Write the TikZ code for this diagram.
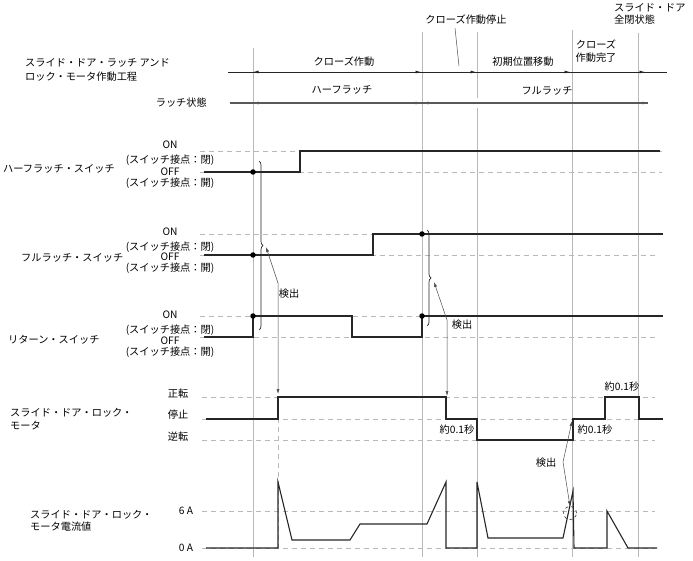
\documentclass[tikz,border=0pt]{standalone}
\usepackage{fontspec}
\setmainfont{Noto Sans CJK JP}
\usetikzlibrary{arrows.meta,decorations.pathreplacing}
\begin{document}
\begin{tikzpicture}[x=1pt,y=-1pt,
  font=\fontsize{10.2}{13.5}\selectfont,
  gridline/.style={draw=gray!55, line width=0.8pt},
  refline/.style={draw=gray!55, line width=0.7pt, dash pattern=on 5pt off 4pt},
  sig/.style={draw=black!85, line width=1.1pt},
  dimline/.style={draw=black!85, line width=0.8pt},
  latchline/.style={draw=gray!70!black, line width=1.1pt},
  tipl/.style={-{Latex[length=5.5pt,width=3pt]}},
  leader/.style={draw=black!70, line width=0.5pt},
  ldarr/.style={leader, {Latex[length=5pt,width=3pt]}-{Latex[length=5pt,width=3pt]}},
  brc/.style={draw=black!85, line width=0.7pt, decorate, decoration={brace, amplitude=4pt}},
  dotn/.style={circle, fill=black, inner sep=0pt, minimum size=5.5pt},
  lbl/.style={inner sep=0pt, align=center},
  lbll/.style={inner sep=0pt, align=left, anchor=west},
]
\useasboundingbox (0,0) rectangle (693,561);

% vertical grid lines
\draw[gridline] (253,48) -- (253,557);
\draw[gridline] (422,32) -- (422,557);
\draw[gridline] (477,32) -- (477,98) (477,108) -- (477,557);
\draw[gridline] (572,30) -- (572,557);
\draw[gridline] (638,33) -- (638,557);

% process row
\node[lbll] (proc) at (25,70) {スライド・ドア・ラッチ アンド\\ロック・モータ作動工程};
\coordinate (p0) at (228,72);
\coordinate (p5) at (667,72);
\draw[dimline] (p0) -- (p5);
\draw[dimline,tipl] (262,72) -- (253,72);
\draw[dimline,tipl] (412,72) -- (421,72);
\draw[dimline,tipl] (467,72) -- (476,72);
\draw[dimline,tipl] (561,72) -- (570,72);
\draw[dimline,tipl] (636,72) -- (645,72);
\node[lbl] (t1) at (344,62) {クローズ作動};
\node[lbl] (t2) at (466,20) {クローズ作動停止};
\coordinate (t2e) at (459,66);
\draw[leader] (455,28) -- (t2e);
\node[lbl] (t3) at (523,62) {初期位置移動};
\node[lbl] (t4) at (596,51) {クローズ\\作動完了};
\node[lbll, anchor=north west, align=left, font=\fontsize{10.2}{12.5}\selectfont] (t5) at (614,3) {スライド・ドア\\全閉状態};

% latch row
\node[lbl, anchor=east] (latch) at (207,103) {ラッチ状態};
\draw[latchline] (230,103) -- (648,103);
\draw[latchline,tipl] (262,103) -- (253,103);
\draw[latchline,tipl] (412,103) -- (421,103);
\draw[latchline,tipl] (432,103) -- (423,103);
\draw[latchline,tipl] (639,103) -- (648,103);
\node[lbl] (l1) at (342,90) {ハーフラッチ};
\node[lbl] (l2) at (547,91) {フルラッチ};

% half latch switch
\node[lbll] (hs) at (3,169) {ハーフラッチ・スイッチ};
\node[lbl] (hon) at (170,145) {ON};
\node[lbl] (hc) at (170,160) {(スイッチ接点：閉)};
\node[lbl] (hoff) at (170,172) {OFF};
\node[lbl] (ho) at (170,183) {(スイッチ接点：開)};
\draw[refline] (200,151) -- (662,151);
\draw[refline] (200,172) -- (662,172);
\draw[sig] (204,172) -- (300,172) -- (300,151) -- (660,151);

% full latch switch
\node[lbll] (fs) at (21,258) {フルラッチ・スイッチ};
\node[lbl] (fon) at (170,232) {ON};
\node[lbl] (fc) at (170,247) {(スイッチ接点：閉)};
\node[lbl] (foff) at (170,257) {OFF};
\node[lbl] (fo) at (170,268) {(スイッチ接点：開)};
\draw[refline] (200,234) -- (662,234);
\draw[refline] (200,255) -- (655,255);
\draw[sig] (204,255) -- (373,255) -- (373,234) -- (663,234);

% return switch
\node[lbll] (rs) at (8,340) {リターン・スイッチ};
\node[lbl] (ron) at (170,315) {ON};
\node[lbl] (rc) at (170,330) {(スイッチ接点：閉)};
\node[lbl] (roff) at (170,341) {OFF};
\node[lbl] (ro) at (170,352) {(スイッチ接点：開)};
\draw[refline] (200,316) -- (662,316);
\draw[refline] (200,337) -- (655,337);
\draw[sig] (204,337) -- (253,337) -- (253,316) -- (352,316) -- (352,337) -- (422,337) -- (422,316) -- (663,316);

% dots
\node[dotn] (d1) at (253,172) {};
\node[dotn] (d2) at (253,255) {};
\node[dotn] (d3) at (253,316) {};
\node[dotn] (d4) at (422,234) {};
\node[dotn] (d5) at (422,316) {};

% braces
\draw[brc] (259,161) -- (259,330);
\draw[brc] (427,230) -- (427,326);

% motor
\node[lbll, font=\fontsize{10.2}{12.5}\selectfont] (mot) at (10,419) {スライド・ドア・ロック・\\モータ};
\node[lbl] (mf) at (178,394) {正転};
\node[lbl] (ms) at (178,415) {停止};
\node[lbl] (mr) at (178,437) {逆転};
\draw[refline] (202,397) -- (655,397);
\draw[refline] (202,419) -- (655,419);
\draw[refline] (202,440) -- (655,440);
\draw[refline] (278,400) -- (278,548);
\draw[sig] (206,419) -- (278,419) -- (278,397) -- (446,397) -- (446,419) -- (477,419) -- (477,440) -- (573,440) -- (573,419) -- (605,419) -- (605,397) -- (639,397) -- (639,419) -- (663,419);
\node[lbl] (s1) at (457,430) {約0.1秒};
\node[lbl] (s2) at (595,430) {約0.1秒};
\node[lbl] (s3) at (622,387) {約0.1秒};

% current
\node[lbll, font=\fontsize{10.2}{12.5}\selectfont] (cur) at (30,521) {スライド・ドア・ロック・\\モータ電流値};
\node[lbl] (c6) at (186,511) {6 A};
\node[lbl] (c0) at (186,548) {0 A};
\draw[refline] (202,511) -- (655,511);
\draw[refline] (202,548) -- (655,548);
\draw[sig] (206,548) -- (278,548) -- (278,482) -- (292,540) -- (350,540) -- (360,524) -- (427,524) -- (446,482) -- (446,548) -- (477,548) -- (477,482) -- (488,538) -- (563,538) -- (573,491) -- (574,548) -- (607,548) -- (607,511) -- (628,548) -- (657,548);

% detection arrows
\node[lbl] (k1) at (289,294) {検出};
\node[lbl] (k2) at (462,325) {検出};
\node[lbl] (k3) at (546,463) {検出};
\coordinate (a1t) at (266,247);
\coordinate (a1b) at (278,394);
\draw[ldarr] (a1t) -- (278,283) -- (a1b);
\coordinate (a2t) at (434,282);
\coordinate (a2b) at (447,396);
\draw[ldarr] (a2t) -- (447,320) -- (a2b);
\node[circle, draw=black!80, dashed, line width=0.6pt, minimum size=13pt, inner sep=0pt] (circ) at (570,513) {};
\coordinate (a3t) at (572,421);
\draw[ldarr] (a3t) -- (563,462) -- (circ.north);
\end{tikzpicture}
\end{document}
